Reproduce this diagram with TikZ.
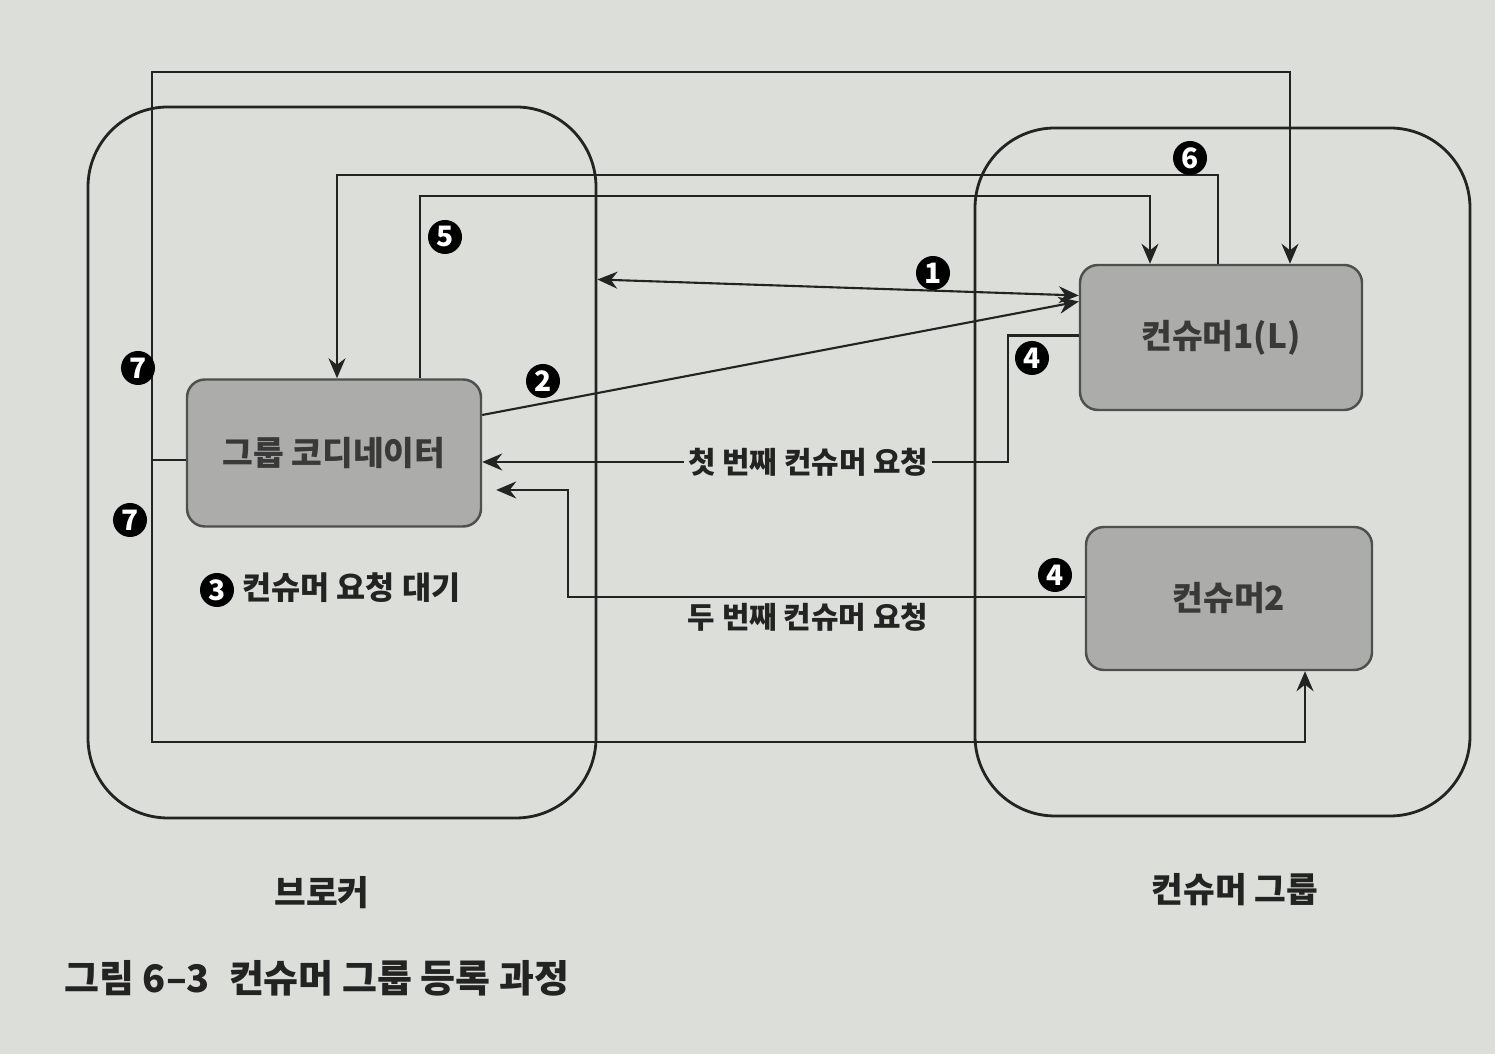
\documentclass[tikz,border=0pt]{standalone}
\usepackage{fontspec}
\setmainfont{Noto Sans CJK KR}
\usetikzlibrary{arrows,arrows.meta,calc,positioning,shapes}
\definecolor{paper}{RGB}{220,222,217}
\definecolor{boxgray}{RGB}{172,172,170}
\definecolor{ink}{RGB}{35,35,35}
\tikzstyle{group} = [draw=ink, line width=0.8pt, rounded corners=0.8cm]
\tikzstyle{box} = [draw=ink!80, line width=0.7pt, fill=boxgray, rounded corners=0.18cm, text=ink!90, font=\fontsize{9.5}{11}\selectfont\bfseries]
\tikzstyle{arrow} = [draw=ink, line width=0.6pt, ->, >={Stealth[length=2mm,width=1.7mm]}]
\tikzstyle{dblarrow} = [arrow, <->]
\tikzstyle{num} = [circle, fill=black, text=white, inner sep=0pt, minimum size=0.34cm, font=\fontsize{8}{8}\selectfont\bfseries]
\tikzstyle{lbl} = [text=ink, font=\fontsize{8.5}{10}\selectfont\bfseries, inner sep=1pt]
\tikzstyle{title} = [text=ink, font=\fontsize{9.8}{11}\selectfont\bfseries]

\begin{document}
\begin{tikzpicture}
\fill[paper] (0,0) rectangle (14.95,10.54);
% containers
\node[group, minimum width=5.08cm, minimum height=7.11cm] (broker) at (3.42,5.915) {};
\node[group, minimum width=4.95cm, minimum height=6.88cm] (cgroup) at (12.225,5.82) {};
% boxes
\node[box, minimum width=2.94cm, minimum height=1.47cm] (coord) at (3.34,6.01) {그룹 코디네이터};
\node[box, minimum width=2.82cm, minimum height=1.45cm] (con1) at (12.21,7.165) {컨슈머1(L)};
\node[box, minimum width=2.86cm, minimum height=1.43cm] (con2) at (12.29,4.555) {컨슈머2};
% bend points
\coordinate (r7top) at (1.52,9.82);
\coordinate (r7bot) at (1.52,3.12);
\coordinate (r6) at (3.37,8.79);
\coordinate (r5) at (4.20,8.58);
\coordinate (r4a) at (10.08,5.92);
\coordinate (r4b) at (5.68,5.64);
\coordinate (e4b) at ([xshift=0.14cm,yshift=-0.37cm]coord.east);
\coordinate (b1) at ([yshift=1.83cm]broker.east);
% 7
\draw[arrow] ([yshift=-0.07cm]coord.west) -| (r7top) -| ([xshift=0.69cm]con1.north);
\draw[arrow] ([yshift=-0.07cm]coord.west) -| (r7bot) -| ([xshift=0.76cm]con2.south);
% 6 and 5
\draw[arrow] ([xshift=-0.03cm]con1.north) |- (r6) -- (r6 |- coord.north);
\draw[arrow] ([xshift=0.86cm]coord.north) -- (r5) -| ([xshift=-0.71cm]con1.north);
% 1 and 2
\draw[dblarrow] (b1) -- ([yshift=0.42cm]con1.west);
\draw[arrow] ([yshift=0.38cm]coord.east) -- ([yshift=0.36cm]con1.west);
% 4
\draw[arrow] ([yshift=0.02cm]con1.west) -| (r4a) -- (r4a -| coord.east)
  node[lbl, fill=paper, pos=0.38] (lbl1) {첫 번째 컨슈머 요청};
\draw[arrow] ([yshift=0.015cm]con2.west) -| (r4b) -- (e4b);
\node[lbl] (lbl2) at (8.08,4.37) {두 번째 컨슈머 요청};
\node[lbl, anchor=west, font=\fontsize{9}{11}\selectfont\bfseries] (wait) at (2.38,4.66) {컨슈머 요청 대기};
% numbers
\node[num] (n1) at (9.33,7.81) {1};
\node[num] (n2) at (5.43,6.73) {2};
\node[num] (n3) at (2.17,4.64) {3};
\node[num] (n4a) at (10.32,6.96) {4};
\node[num] (n4b) at (10.55,4.79) {4};
\node[num] (n5) at (4.45,8.17) {5};
\node[num] (n6) at (11.90,8.96) {6};
\node[num] (n7a) at (1.38,6.86) {7};
\node[num] (n7b) at (1.30,5.34) {7};
% titles
\node[title] (tbroker) at (3.22,1.61) {브로커};
\node[title] (tgroup) at (12.35,1.64) {컨슈머 그룹};
\node[title, anchor=west, font=\fontsize{10.8}{12}\selectfont\bfseries] (cap) at (0.52,0.76) {그림 6–3\enspace 컨슈머 그룹 등록 과정};
\end{tikzpicture}
\end{document}
